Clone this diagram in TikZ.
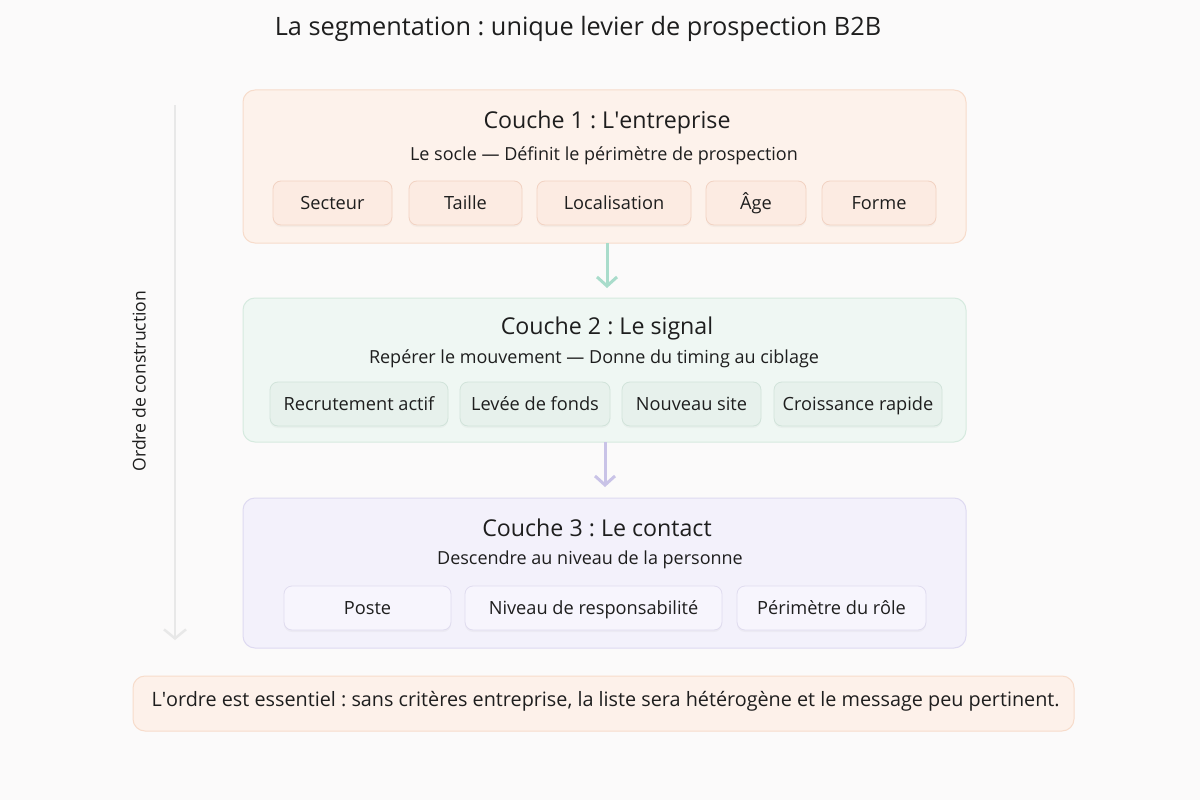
\documentclass[tikz,border=0pt]{standalone}
\usepackage{fontspec}
\setmainfont{Open Sans}
\usetikzlibrary{arrows.meta,shadows}
\definecolor{bg}{HTML}{FBFAFA}
\definecolor{oFill}{HTML}{FDF2EB}
\definecolor{oLine}{HTML}{F7DCCB}
\definecolor{oChip}{HTML}{FCEBE2}
\definecolor{oChipL}{HTML}{F2D2C2}
\definecolor{gFill}{HTML}{EFF7F3}
\definecolor{gLine}{HTML}{D6EADF}
\definecolor{gChip}{HTML}{E7F1EC}
\definecolor{gChipL}{HTML}{D1E3DA}
\definecolor{pFill}{HTML}{F3F1FB}
\definecolor{pLine}{HTML}{DEDAF1}
\definecolor{pChip}{HTML}{F7F5FD}
\definecolor{pChipL}{HTML}{E0DCEF}
\definecolor{gArrow}{HTML}{A9DCCB}
\definecolor{pArrow}{HTML}{C9C3E7}
\definecolor{axis}{HTML}{E8E8E8}
\definecolor{txt}{HTML}{1E1E1E}
\tikzset{
  layer/.style={draw=#1Line, fill=#1Fill, rounded corners=12pt, line width=1pt},
  chip/.style={draw=#1ChipL, fill=#1Chip, rounded corners=8pt, line width=0.8pt,
     drop shadow={shadow xshift=0pt, shadow yshift=-2pt, opacity=0.06}},
  chiptext/.style={font=\fontsize{18.2}{22}\selectfont, text=txt, text height=14pt, text depth=1pt},
  ltitle/.style={font=\fontsize{23.2}{27}\selectfont, text=txt, text height=18pt, text depth=5.5pt},
  lsub/.style={font=\fontsize{18}{22}\selectfont, text=txt, text height=14pt, text depth=4.5pt},
  flow/.style={line width=3pt, -{Straight Barb[length=9pt,width=20pt,line width=3pt]}},
}
\newcommand{\mkchip}[6]{% name, color, x1, x2, ymid, text
  \path[chip=#2] (#3,#5-22) rectangle (#4,#5+22);
  \node[chiptext] (#1) at ({(#3+#4)/2},#5) {#6};}
\begin{document}
\begin{tikzpicture}[x=1pt,y=-1pt]
\frenchspacing
\useasboundingbox[fill=bg] (0,0) rectangle (1200,800);
\node[font=\fontsize{25.3}{30}\selectfont, text=txt, text height=19pt, text depth=6pt] (title) at (578,29) {La segmentation : unique levier de prospection B2B};

% axis
\coordinate (axtop) at (175,105);
\coordinate (axbot) at (175,640);
\draw[axis, line width=2.5pt, -{Straight Barb[length=9pt,width=22pt,line width=2.5pt]}] (axtop) -- (axbot);
\node[rotate=90, font=\fontsize{17.6}{21}\selectfont, text=txt] (axlabel) at (139,381) {Ordre de construction};

% layer 1
\draw[layer=o] (243,90) rectangle (966,243);
\node[inner sep=0pt, minimum width=723pt, minimum height=153pt] (L1) at (604.5,166.5) {};
\node[ltitle] (t1) at (607,122) {Couche 1 : L\textquotesingle entreprise};
\node[lsub] (s1) at (604,155.5) {Le socle — Définit le périmètre de prospection};
\mkchip{c11}{o}{273}{392}{203}{Secteur}
\mkchip{c12}{o}{409}{522}{203}{Taille}
\mkchip{c13}{o}{537}{691}{203}{Localisation}
\mkchip{c14}{o}{706}{806}{203}{Âge}
\mkchip{c15}{o}{822}{936}{203}{Forme}

% layer 2
\draw[layer=g] (243,298) rectangle (966,442);
\node[inner sep=0pt, minimum width=723pt, minimum height=144pt] (L2) at (604.5,370) {};
\node[ltitle] (t2) at (607,328) {Couche 2 : Le signal};
\node[lsub] (s2) at (594,359) {Repérer le mouvement — Donne du timing au ciblage};
\mkchip{c21}{g}{270}{448}{404}{Recrutement actif}
\mkchip{c22}{g}{460}{610}{404}{Levée de fonds}
\mkchip{c23}{g}{622}{761}{404}{Nouveau site}
\mkchip{c24}{g}{774}{942}{404}{Croissance rapide}

% layer 3
\draw[layer=p] (243,498) rectangle (966,648);
\node[inner sep=0pt, minimum width=723pt, minimum height=150pt] (L3) at (604.5,573) {};
\node[ltitle] (t3) at (597,530) {Couche 3 : Le contact};
\node[lsub] (s3) at (590,560) {Descendre au niveau de la personne};
\mkchip{c31}{p}{284}{451}{608}{Poste}
\mkchip{c32}{p}{465}{722}{608}{Niveau de responsabilité}
\mkchip{c33}{p}{737}{926}{608}{Périmètre du rôle}

% arrows between layers
\draw[flow, gArrow] (607,243) -- (607,288);
\draw[flow, pArrow] (605,442) -- (605,487);

% note
\draw[draw=oLine, fill=oFill!85!oChip, rounded corners=12pt, line width=1pt] (133,676) rectangle (1074,731);
\node[anchor=west, font=\fontsize{19.8}{24}\selectfont, text=txt, text height=15pt, text depth=5pt] (note) at (148,701) {L\textquotesingle ordre est essentiel : sans critères entreprise, la liste sera hétérogène et le message peu pertinent.};
\end{tikzpicture}
\end{document}
